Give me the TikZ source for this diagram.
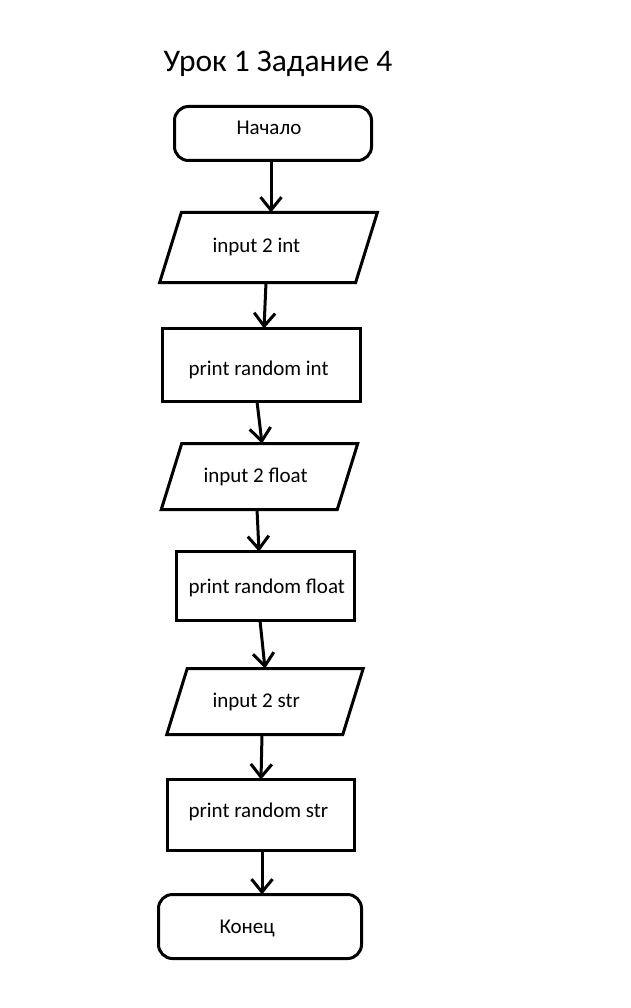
\documentclass[tikz,border=0pt]{standalone}
\usepackage{fontspec}
\setmainfont{Carlito}
\usetikzlibrary{arrows.meta}

\begin{document}
\begin{tikzpicture}[x=1pt,y=-1pt,line width=3pt,
  term/.style={draw,rectangle,rounded corners=14pt,inner sep=0,outer sep=0},
  io/.style={draw,rectangle,xslant=0.31,inner sep=0,outer sep=0},
  proc/.style={draw,rectangle,inner sep=0,outer sep=0},
  txt/.style={anchor=base west,inner sep=0,font=\fontsize{21}{25}\selectfont},
  go/.style={-{Straight Barb[length=13pt,width=21pt,line width=3pt]}}]
\useasboundingbox (0,0) rectangle (630,1008);

\node[anchor=base west,inner sep=0,font=\fontsize{31.5}{36}\selectfont] (title) at (162,72) {Урок 1 Задание 4};

\node[term,minimum width=197pt,minimum height=54pt] (b0) at (273,133.5) {};
\node[io,minimum width=196pt,minimum height=70pt] (b1) at (268.5,247.5) {};
\node[proc,minimum width=198pt,minimum height=73pt] (b2) at (261.5,365) {};
\node[io,minimum width=176pt,minimum height=66pt] (b3) at (259.5,476.5) {};
\node[proc,minimum width=178pt,minimum height=69pt] (b4) at (265.5,586) {};
\node[io,minimum width=176pt,minimum height=66pt] (b5) at (265,701.5) {};
\node[proc,minimum width=187pt,minimum height=71pt] (b6) at (261,815) {};
\node[term,minimum width=203pt,minimum height=64pt] (b7) at (260,926.5) {};

\node[txt] (t0) at (235,135) {Начало};
\node[txt] (t1) at (211,252) {input 2 int};
\node[txt] (t2) at (187,375) {print random int};
\node[txt] (t3) at (202,482) {input 2 float};
\node[txt] (t4) at (187,593) {print random float};
\node[txt] (t5) at (211,707) {input 2 str};
\node[txt] (t6) at (187,817) {print random str};
\node[txt] (t7) at (218,933) {Конец};

\draw[go] (271,0 |- b0.south) -- (271,0 |- b1.north);
\draw[go] (266,0 |- b1.south) -- (264,0 |- b2.north);
\draw[go] (257,0 |- b2.south) -- (262,0 |- b3.north);
\draw[go] (257,0 |- b3.south) -- (259,0 |- b4.north);
\draw[go] (260,0 |- b4.south) -- (265,0 |- b5.north);
\draw[go] (262,0 |- b5.south) -- (261,0 |- b6.north);
\draw[go] (262,0 |- b6.south) -- (262,0 |- b7.north);
\end{tikzpicture}
\end{document}
